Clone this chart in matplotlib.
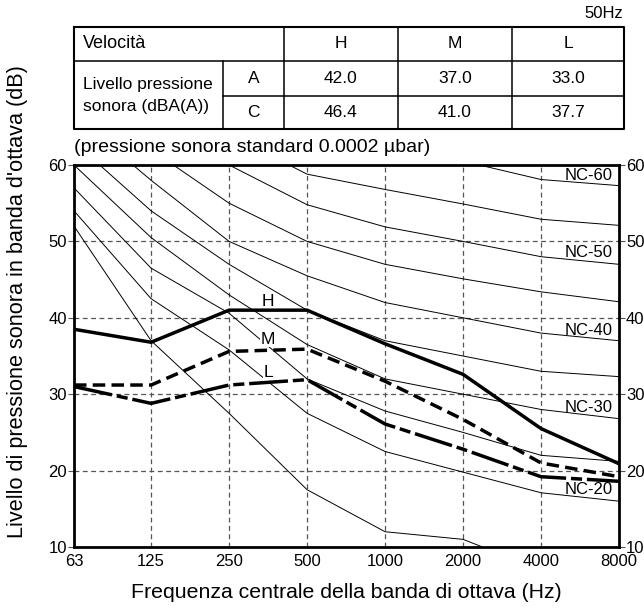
import matplotlib
matplotlib.use('Agg')
import matplotlib.pyplot as plt

plt.rcParams['font.family'] = ['Liberation Sans', 'DejaVu Sans']
plt.rcParams['lines.scale_dashes'] = False

# octave band centre frequencies
freqs = [63, 125, 250, 500, 1000, 2000, 4000, 8000]
freq_labels = ['63', '125', '250', '500', '1000', '2000', '4000', '8000']

# NC reference curves
nc_15 = [52, 37, 27.5, 17.5, 12, 11, 7, 7]
nc_20 = [54, 42.5, 35.8, 27.5, 22.5, 19.8, 17.1, 16]
nc_25 = [57, 46.5, 40.6, 32, 27.8, 25, 22, 21.2]
nc_30 = [60, 50.5, 43, 36.5, 32, 30, 28, 26.8]
nc_35 = [63, 54, 47, 41, 37, 35, 33, 32.3]
nc_40 = [66.5, 58, 50, 45.5, 42, 40, 38, 37]
nc_45 = [70, 62, 55, 50, 47, 45.1, 43.4, 42.1]
nc_50 = [73, 66, 60, 54.8, 51.9, 50, 48, 47]
nc_55 = [76, 70, 64, 58.8, 56.8, 54.9, 52.9, 52.1]
nc_60 = [79, 74, 68, 63.5, 62, 60.5, 58.1, 57.3]
nc_curves = [nc_15, nc_20, nc_25, nc_30, nc_35, nc_40, nc_45, nc_50, nc_55, nc_60]
nc_label_names = ['NC-60', 'NC-50', 'NC-40', 'NC-30', 'NC-20']
nc_label_y = [58.6, 48.5, 38.3, 28.3, 17.5]

# measured sound pressure per fan speed
level_h = [38.5, 36.8, 41.0, 41.0, 36.6, 32.6, 25.5, 20.9]
level_m = [31.2, 31.2, 35.6, 35.9, 31.7, 26.7, 21.0, 19.2]
level_l = [31.0, 28.8, 31.2, 31.9, 26.1, 22.8, 19.2, 18.6]

# table
speeds = ['H', 'M', 'L']
dba_a = ['42.0', '37.0', '33.0']
dba_c = ['46.4', '41.0', '37.7']

W, H = 644, 612
fig = plt.figure(figsize=(W / 100, H / 100), dpi=100)

ax = fig.add_axes([74 / W, 1 - 547 / H, (619 - 74) / W, (547 - 165) / H])
ax.set_xscale('log', base=2)
ax.set_xlim(63, 8000)
ax.set_ylim(10, 60)

for c in nc_curves:
    ax.plot(freqs, c, color='black', lw=0.7, zorder=2)

ax.set_xticks(freqs)
ax.set_xticklabels(freq_labels)
ax.minorticks_off()
ax.set_yticks([10, 20, 30, 40, 50, 60])
ax.grid(True, color='#555555', lw=0.9, ls=(0, (3.5, 2.5)), zorder=1)

ax.plot(freqs, level_h, color='black', lw=2.5, solid_joinstyle='miter', zorder=4)
ax.plot(freqs, level_m, color='black', lw=2.5, ls=(0, (9, 4.5)), zorder=4)
ax.plot(freqs, level_l, color='black', lw=2.5, ls=(0, (28, 3.5, 8, 3.5)), zorder=4)

box = dict(facecolor='white', edgecolor='none', pad=0.5)
ax.text(354, 42.1, 'H', fontsize=12.5, ha='center', va='center', bbox=box, zorder=3)
ax.text(354, 37.2, 'M', fontsize=12.5, ha='center', va='center', bbox=box, zorder=3)
ax.text(354, 32.8, 'L', fontsize=12.5, ha='center', va='center', bbox=box, zorder=3)

for name, yv in zip(nc_label_names, nc_label_y):
    ax.text(6100, yv, name, fontsize=12, ha='center', va='center', zorder=3,
            family=['Liberation Sans Narrow', 'Liberation Sans'])

for s in ax.spines.values():
    s.set_linewidth(2)
ax.tick_params(axis='x', length=0, pad=5, labelsize=12)
ax.tick_params(axis='y', direction='out', length=4, width=0.8, color='#555555',
               pad=1, labelsize=12, right=True, labelright=True)

fig.text(346 / W, 1 - 592 / H, 'Frequenza centrale della banda di ottava (Hz)',
         fontsize=15.3, ha='center', va='center')
fig.text(18 / W, 1 - 302 / H, "Livello di pressione sonora in banda d'ottava (dB)",
         fontsize=15.6, ha='center', va='center', rotation=90)

# table drawn in pixel coordinates
tx = fig.add_axes([0, 0, 1, 1], zorder=-1)
tx.set_xlim(0, W)
tx.set_ylim(H, 0)
tx.axis('off')

x0, x1, x2, x3, x4, x5 = 74, 223, 284, 398, 512, 624
y0, y1, y2, y3 = 27, 61, 96, 129
tx.plot([x0, x5, x5, x0, x0], [y0, y0, y3, y3, y0], color='black', lw=1.5)
tx.plot([x0, x5], [y1, y1], color='black', lw=1.1)
tx.plot([x1, x5], [y2, y2], color='black', lw=1.1)
tx.plot([x1, x1], [y1, y3], color='black', lw=1.1)
for xv in [x2, x3, x4]:
    tx.plot([xv, xv], [y0, y3], color='black', lw=1.1)

fs = 12.5
tx.text(x0 + 9, (y0 + y1) / 2, 'Velocità', fontsize=13, va='center', ha='left')
tx.text(x0 + 9, 85, 'Livello pressione', fontsize=fs, va='center', ha='left')
tx.text(x0 + 9, 107, 'sonora (dBA(A))', fontsize=fs, va='center', ha='left')
tx.text((x1 + x2) / 2, (y1 + y2) / 2, 'A', fontsize=fs, va='center', ha='center')
tx.text((x1 + x2) / 2, (y2 + y3) / 2, 'C', fontsize=fs, va='center', ha='center')
cols = [(x2 + x3) / 2, (x3 + x4) / 2, (x4 + x5) / 2]
for cx, sp, a, c in zip(cols, speeds, dba_a, dba_c):
    tx.text(cx, (y0 + y1) / 2, sp, fontsize=fs, va='center', ha='center')
    tx.text(cx, (y1 + y2) / 2, a, fontsize=fs, va='center', ha='center')
    tx.text(cx, (y2 + y3) / 2, c, fontsize=fs, va='center', ha='center')

tx.text(623, 13, '50Hz', fontsize=12, va='center', ha='right')
tx.text(74, 147, '(pressione sonora standard 0.0002 µbar)', fontsize=14,
        va='center', ha='left')

fig.savefig('out.png', dpi=100)
